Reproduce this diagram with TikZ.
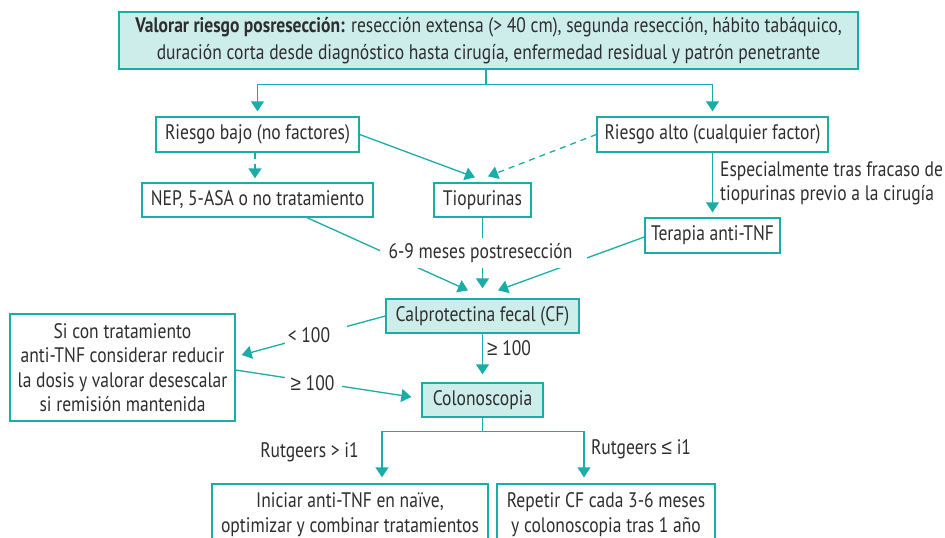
\documentclass[tikz,border=0pt]{standalone}
\usepackage{fontspec}
\setmainfont{PT Sans}[FakeStretch=0.835]
\newfontfamily\symfont{Liberation Sans}[FakeStretch=0.9]
\newcommand{\gesym}{{\symfont ≥}}
\newcommand{\lesym}{{\symfont ≤}}
\usetikzlibrary{arrows.meta,calc}
\definecolor{tl}{HTML}{1AACA6}
\definecolor{tfill}{HTML}{CDEDEB}
\definecolor{txt}{HTML}{2E2E2E}
\tikzset{
  box/.style={draw=tl, line width=1.3pt, inner sep=0pt, text=txt, align=center,
    font=\fontsize{21}{24.5}\selectfont},
  fbox/.style={box, fill=tfill},
  conn/.style={draw=tl, line width=1.3pt, -{Triangle[width=13pt,length=10pt]}},
  plain/.style={draw=tl, line width=1.3pt},
  dsh/.style={conn, dash pattern=on 6pt off 5pt},
  lbl/.style={text=txt, inner sep=0pt, font=\fontsize{21}{24}\selectfont},
  gap/.style={fill=white, text=txt, inner sep=0pt, font=\fontsize{21}{24}\selectfont}
}
\begin{document}
\begin{tikzpicture}[x=1pt,y=-1pt]
\useasboundingbox (0,0) rectangle (945,538);
\fill[white] (0,0) rectangle (945,538);
\clip (0,0) rectangle (945,538);

% nodes
\node[fbox, minimum width=739, minimum height=57, font=\fontsize{21}{27}\selectfont] (top) at (488.5,40.5)
  {\textbf{Valorar riesgo posresección:} resección extensa (> 40 cm), segunda resección, hábito tabáquico,\\
   duración corta desde diagnóstico hasta cirugía, enfermedad residual y patrón penetrante};
\node[box, minimum width=203, minimum height=35] (bajo) at (257.5,134.5) {Riesgo bajo (no factores)};
\node[box, minimum width=231, minimum height=35] (alto) at (712.5,134.5) {Riesgo alto (cualquier factor)};
\node[box, minimum width=231, minimum height=34] (nep) at (257.5,200) {NEP, 5-ASA o no tratamiento};
\node[box, minimum width=97, minimum height=34] (tio) at (482.5,200) {Tiopurinas};
\node[box, minimum width=135, minimum height=35] (tnf) at (712.5,235.5) {Terapia anti-TNF};
\node[fbox, minimum width=193, minimum height=34] (calpro) at (482.5,316) {Calprotectina fecal (CF)};
\node[box, minimum width=225, minimum height=107] (left) at (122.5,367.5)
  {Si con tratamiento\\anti-TNF considerar reducir\\la dosis y valorar desescalar\\si remisión mantenida};
\node[fbox, minimum width=121, minimum height=34] (colono) at (482.5,400) {Colonoscopia};
\node[box, minimum width=276, minimum height=61] (bl) at (350,514.5)
  {Iniciar anti-TNF en naïve,\\optimizar y combinar tratamientos};
\node[box, minimum width=218, minimum height=61] (br) at (606,514.5)
  {Repetir CF cada 3-6 meses\\y colonoscopia tras 1 año};

% connectors
\draw[conn, shorten >=5pt] ([xshift=-2.5pt]top.south) -- ++(0,15) -| (bajo.north);
\draw[conn, shorten >=5pt] ([xshift=-2.5pt]top.south) -- ++(0,15) -| (alto.north);
\draw[dsh, shorten >=4pt] ([xshift=-2.5pt]bajo.south) -- ([xshift=-2.5pt]nep.north);
\draw[conn] (bajo.east) -- ($(tio.north)+(-7.5,-5)$);
\draw[dsh] (alto.west) -- ($(tio.north)+(5.5,-6)$);
\draw[conn, shorten >=5pt] (alto.south) -- (tnf.north);
\node[lbl, anchor=west, align=left] (esp) at (720,183)
  {Especialmente tras fracaso de\\tiopurinas previo a la cirugía};

\draw[conn] ($(nep.south)+(49.5,0)$) -- ($(calpro.north)+(-14.5,-8)$);
\draw[conn, shorten >=10pt] (tio.south) -- (calpro.north);
\draw[conn] ($(tnf.west)+(0,1.5)$) -- ($(calpro.north)+(15.5,-8)$);
\node[gap, minimum width=207, minimum height=30] (l69) at (483.5,253) {6-9 meses postresección\hspace*{6pt}};

\draw[conn] (calpro.west) -- ($(left.east)+(6,-12.5)$);
\node[gap, minimum width=62, minimum height=28] (llt) at (316,335) {< 100\hspace*{14pt}};
\draw[conn] ($(left.east)+(0,2.5)$) -- ($(colono.west)+(-10,-3)$);
\node[gap, minimum width=57, minimum height=24] (lge) at (313.5,383) {\gesym\ 100\hspace*{2pt}};

\draw[conn, shorten >=8pt] (calpro.south) -- (colono.north);
\node[lbl, anchor=west] (lge2) at (487,348) {\gesym\ 100};

\draw[conn] (colono.south) -- ++(0,14) -| ($(bl.north)+(32,-6)$);
\draw[conn] (colono.south) -- ++(0,14) -| ($(br.north)+(-22,-6)$);
\node[lbl] (rg1) at (309.5,452) {Rutgeers > i1};
\node[lbl, anchor=west] (rg2) at (591,449) {Rutgeers \lesym\ i1};
\end{tikzpicture}
\end{document}
